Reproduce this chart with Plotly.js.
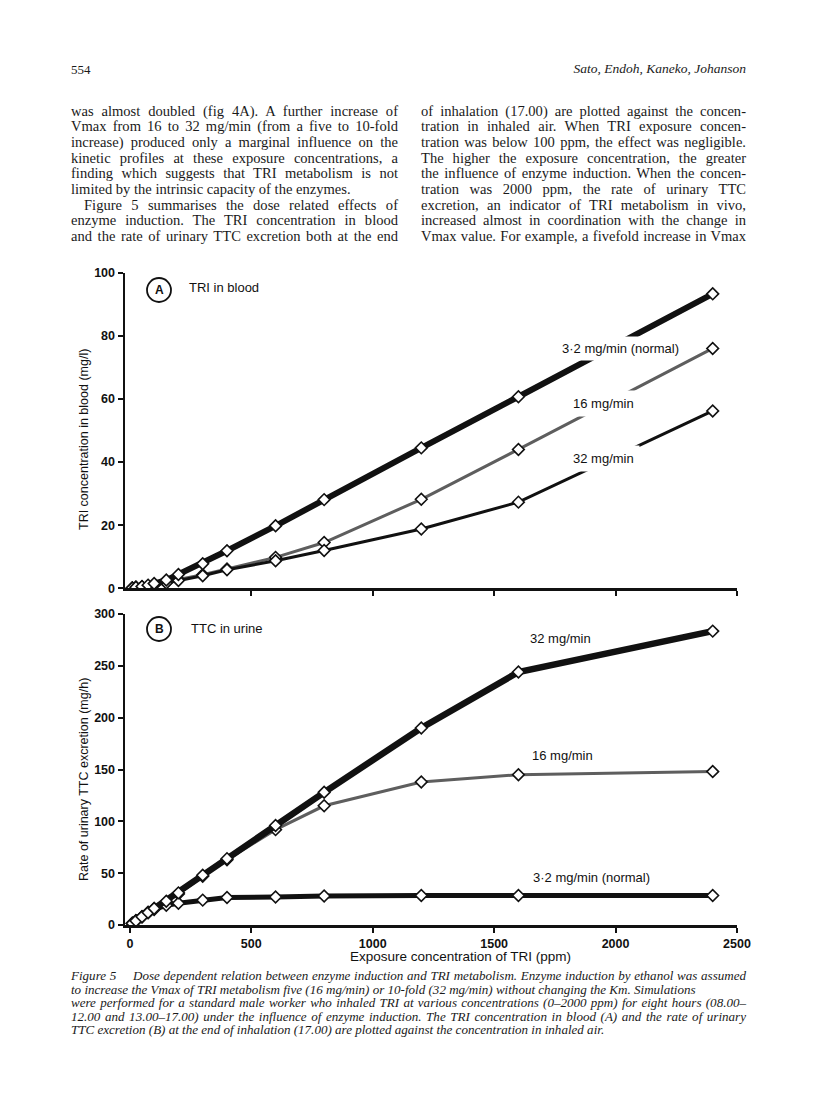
<!DOCTYPE html>
<html><head><meta charset="utf-8">
<script src="https://cdn.plot.ly/plotly-3.0.1.min.js"></script>
<style>
html,body{margin:0;padding:0;background:#fff;}
#page{position:relative;width:816px;height:1112px;overflow:hidden;background:#fff;}
#chart{position:absolute;left:0;top:0;width:816px;height:1112px;}
.ln{position:absolute;white-space:nowrap;font-family:"Liberation Serif","Times New Roman",serif;color:#1a1a1a;}
</style></head>
<body><div id="page"><div id="chart"></div></div>
<script>
// ---- data ----
const ppm = [10, 25, 50, 75, 100, 150, 200, 300, 400, 600, 800, 1200, 1600, 2400];
const bloodNormal = [0.1, 0.3, 0.6, 1.0, 1.5, 2.6, 4.4, 7.8, 11.9, 19.8, 28.1, 44.5, 60.7, 93.3];
const blood16     = [0.1, 0.3, 0.5, 0.8, 1.1, 1.8, 2.8, 4.3, 6.1, 9.8, 14.5, 28.2, 44.0, 76.0];
const blood32     = [0.1, 0.3, 0.5, 0.8, 1.1, 1.7, 2.5, 4.0, 5.9, 8.7, 12.0, 18.8, 27.3, 56.2];
const urineNormal = [1.5, 4, 8, 12, 15, 19, 21, 24, 26.5, 27, 28, 28.5, 28.5, 28.5];
const urine16     = [1.6, 4, 8, 12, 16, 22, 30, 47, 63, 92, 115, 138, 145, 148];
const urine32     = [1.6, 4, 8, 12, 16, 23, 31, 48, 64, 96, 128, 190, 244, 283.5];
const xTicks = [0, 500, 1000, 1500, 2000, 2500];
const yTicksA = [0, 20, 40, 60, 80, 100];
const yTicksB = [0, 50, 100, 150, 200, 250, 300];
const seriesNames = ['3·2 mg/min (normal)', '16 mg/min', '32 mg/min'];

// ---- page text ----
const header = '554';
const authors = 'Sato, Endoh, Kaneko, Johanson';
const leftCol = [
 'was almost doubled (fig 4A). A further increase of',
 'Vmax from 16 to 32 mg/min (from a five to 10-fold',
 'increase) produced only a marginal influence on the',
 'kinetic profiles at these exposure concentrations, a',
 'finding which suggests that TRI metabolism is not',
 'limited by the intrinsic capacity of the enzymes.',
 'Figure 5 summarises the dose related effects of',
 'enzyme induction. The TRI concentration in blood',
 'and the rate of urinary TTC excretion both at the end'
];
const rightCol = [
 'of inhalation (17.00) are plotted against the concen-',
 'tration in inhaled air. When TRI exposure concen-',
 'tration was below 100 ppm, the effect was negligible.',
 'The higher the exposure concentration, the greater',
 'the influence of enzyme induction. When the concen-',
 'tration was 2000 ppm, the rate of urinary TTC',
 'excretion, an indicator of TRI metabolism in vivo,',
 'increased almost in coordination with the change in',
 'Vmax value. For example, a fivefold increase in Vmax'
];
const caption = [
 'Figure 5\u2003 Dose dependent relation between enzyme induction and TRI metabolism. Enzyme induction by ethanol was assumed',
 'to increase the Vmax of TRI metabolism five (16 mg/min) or 10-fold (32 mg/min) without changing the Km. Simulations',
 'were performed for a standard male worker who inhaled TRI at various concentrations (0\u20132000 ppm) for eight hours (08.00\u2013',
 '12.00 and 13.00\u201317.00) under the influence of enzyme induction. The TRI concentration in blood (A) and the rate of urinary',
 'TTC excretion (B) at the end of inhalation (17.00) are plotted against the concentration in inhaled air.'
];

const page = document.getElementById('page');
function measure(text, size, italic){
  const s = document.createElement('span');
  s.className='ln'; s.style.fontSize=size+'px'; s.style.fontStyle=italic?'italic':'normal';
  s.style.visibility='hidden'; s.textContent=text; page.appendChild(s);
  const w = s.getBoundingClientRect().width; page.removeChild(s); return w;
}
function block(lines, o){
  lines.forEach((t,i)=>{
    const s = document.createElement('span');
    s.className='ln';
    s.style.fontSize=o.size+'px';
    s.style.fontStyle=o.italic?'italic':'normal';
    s.style.lineHeight=o.step+'px';
    const indent = (o.indent && o.indent[i]) || 0;
    s.style.left=(o.left+indent)+'px';
    s.style.top=(o.top + o.step*i - o.step/2)+'px';
    s.textContent=t;
    page.appendChild(s);
    if(o.justify[i]){
      const w = s.getBoundingClientRect().width;
      const n = (t.match(/ /g)||[]).length;
      const target = o.right - o.left - indent;
      if(n>0) s.style.wordSpacing=((target-w)/n)+'px';
    }
  });
}
function fitSize(lines, width, italic){
  let best=0; lines.forEach(t=>{best=Math.max(best, measure(t,12,italic));});
  return 12*width/best;
}
// header
(function(){
  const a=document.createElement('span'); a.className='ln'; a.style.fontSize='13px';
  a.style.left='71px'; a.style.top='62px'; a.textContent=header; page.appendChild(a);
  const b=document.createElement('span'); b.className='ln'; b.style.fontSize='13.5px'; b.style.fontStyle='italic';
  b.style.top='61px'; b.textContent=authors; page.appendChild(b);
  b.style.left=(746-b.getBoundingClientRect().width)+'px';
})();
const bodySize = Math.min(fitSize(leftCol,327*0.985,false), fitSize(rightCol,325*0.985,false));
block(leftCol,{left:71,right:398,top:111.5,step:15.65,size:bodySize,italic:false,
  justify:[1,1,1,1,1,0,1,1,1],indent:[0,0,0,0,0,0,13,0,0]});
block(rightCol,{left:421,right:746,top:111.5,step:15.65,size:bodySize,italic:false,
  justify:[1,1,1,1,1,1,1,1,1]});
const capSize = fitSize([caption[0],caption[2],caption[3]], 675*0.99, true);
block(caption,{left:71,right:746,top:976,step:13.4,size:capSize,italic:true,
  justify:[1,0,1,1,0]});

// ---- chart ----
const W=816, H=1112;
const px = x => x/W, py = y => 1 - y/H;
const black='#111', gray='#5e5e5e';
const mk = {symbol:'diamond', size:9, color:'#fff', line:{color:black, width:1.6}};
const traces = [
 {x:ppm, y:blood16, xaxis:'x', yaxis:'y', name:seriesNames[1], mode:'lines+markers', line:{color:gray,width:3}, marker:mk},
 {x:ppm, y:blood32, xaxis:'x', yaxis:'y', name:seriesNames[2], mode:'lines+markers', line:{color:black,width:3}, marker:mk},
 {x:ppm, y:bloodNormal, xaxis:'x', yaxis:'y', name:seriesNames[0], mode:'lines+markers', line:{color:black,width:6}, marker:mk},
 {x:ppm, y:urine16, xaxis:'x2', yaxis:'y2', name:seriesNames[1], mode:'lines+markers', line:{color:gray,width:3}, marker:mk},
 {x:ppm, y:urineNormal, xaxis:'x2', yaxis:'y2', name:seriesNames[0], mode:'lines+markers', line:{color:black,width:5}, marker:mk},
 {x:ppm, y:urine32, xaxis:'x2', yaxis:'y2', name:seriesNames[2], mode:'lines+markers', line:{color:black,width:6.5}, marker:mk}
];
const fam = '"Liberation Sans", Arial, sans-serif';
const axBase = {showline:true, linewidth:2.5, linecolor:black, ticks:'outside', ticklen:5, tickwidth:2, tickcolor:black,
  showgrid:false, zeroline:false, tickfont:{family:fam, size:12.5, color:black, weight:'bold'}};
const xdom=[px(125), px(737)];
function ann(text, x, y, extra){
  return Object.assign({text:text, x:px(x), y:py(y), xref:'paper', yref:'paper', showarrow:false,
    xanchor:'center', yanchor:'middle', font:{size:13}}, extra||{});
}
const layout = {
  width:W, height:H, margin:{l:0,r:0,t:0,b:0}, showlegend:false,
  paper_bgcolor:'rgba(0,0,0,0)', plot_bgcolor:'rgba(0,0,0,0)',
  font:{family:fam, color:black},
  xaxis:Object.assign({}, axBase, {domain:xdom, range:[-20,2500], anchor:'y', tickvals:xTicks.slice(1), showticklabels:false}),
  yaxis:Object.assign({}, axBase, {domain:[py(588.3), py(272.7)], range:[0,100], anchor:'x', tickvals:yTicksA}),
  xaxis2:Object.assign({}, axBase, {domain:xdom, range:[-20,2500], anchor:'y2', tickvals:xTicks}),
  yaxis2:Object.assign({}, axBase, {domain:[py(925), py(614)], range:[0,300], anchor:'x2', tickvals:yTicksB}),
  shapes:[
    {type:'circle', xref:'paper', yref:'paper', x0:px(147), x1:px(171), y0:py(302), y1:py(278), line:{color:black,width:1.8}},
    {type:'circle', xref:'paper', yref:'paper', x0:px(147), x1:px(171), y0:py(641), y1:py(617), line:{color:black,width:1.8}}
  ],
  annotations:[
    ann('A', 159, 290, {font:{size:12, weight:'bold'}}),
    ann('TRI in blood', 187, 287, {xanchor:'left'}),
    ann('B', 159, 629, {font:{size:12, weight:'bold'}}),
    ann('TTC in urine', 189, 628, {xanchor:'left'}),
    ann(seriesNames[0], 620, 349, {bgcolor:'#fff', borderpad:4}),
    ann(seriesNames[1], 603, 404, {bgcolor:'#fff', borderpad:5}),
    ann(seriesNames[2], 603, 458, {bgcolor:'#fff', borderpad:5}),
    ann(seriesNames[2], 560, 638),
    ann(seriesNames[1], 562, 755),
    ann(seriesNames[0], 591, 877),
    ann('TRI concentration in blood (mg/l)', 84, 440, {textangle:-90, font:{size:12.5}}),
    ann('Rate of urinary TTC excretion (mg/h)', 84, 780, {textangle:-90, font:{size:12.5}}),
    ann('Exposure concentration of TRI (ppm)', 460, 956, {font:{size:13.5}})
  ]
};
Plotly.newPlot('chart', traces, layout, {staticPlot:true, displayModeBar:false});
</script>
</body></html>
